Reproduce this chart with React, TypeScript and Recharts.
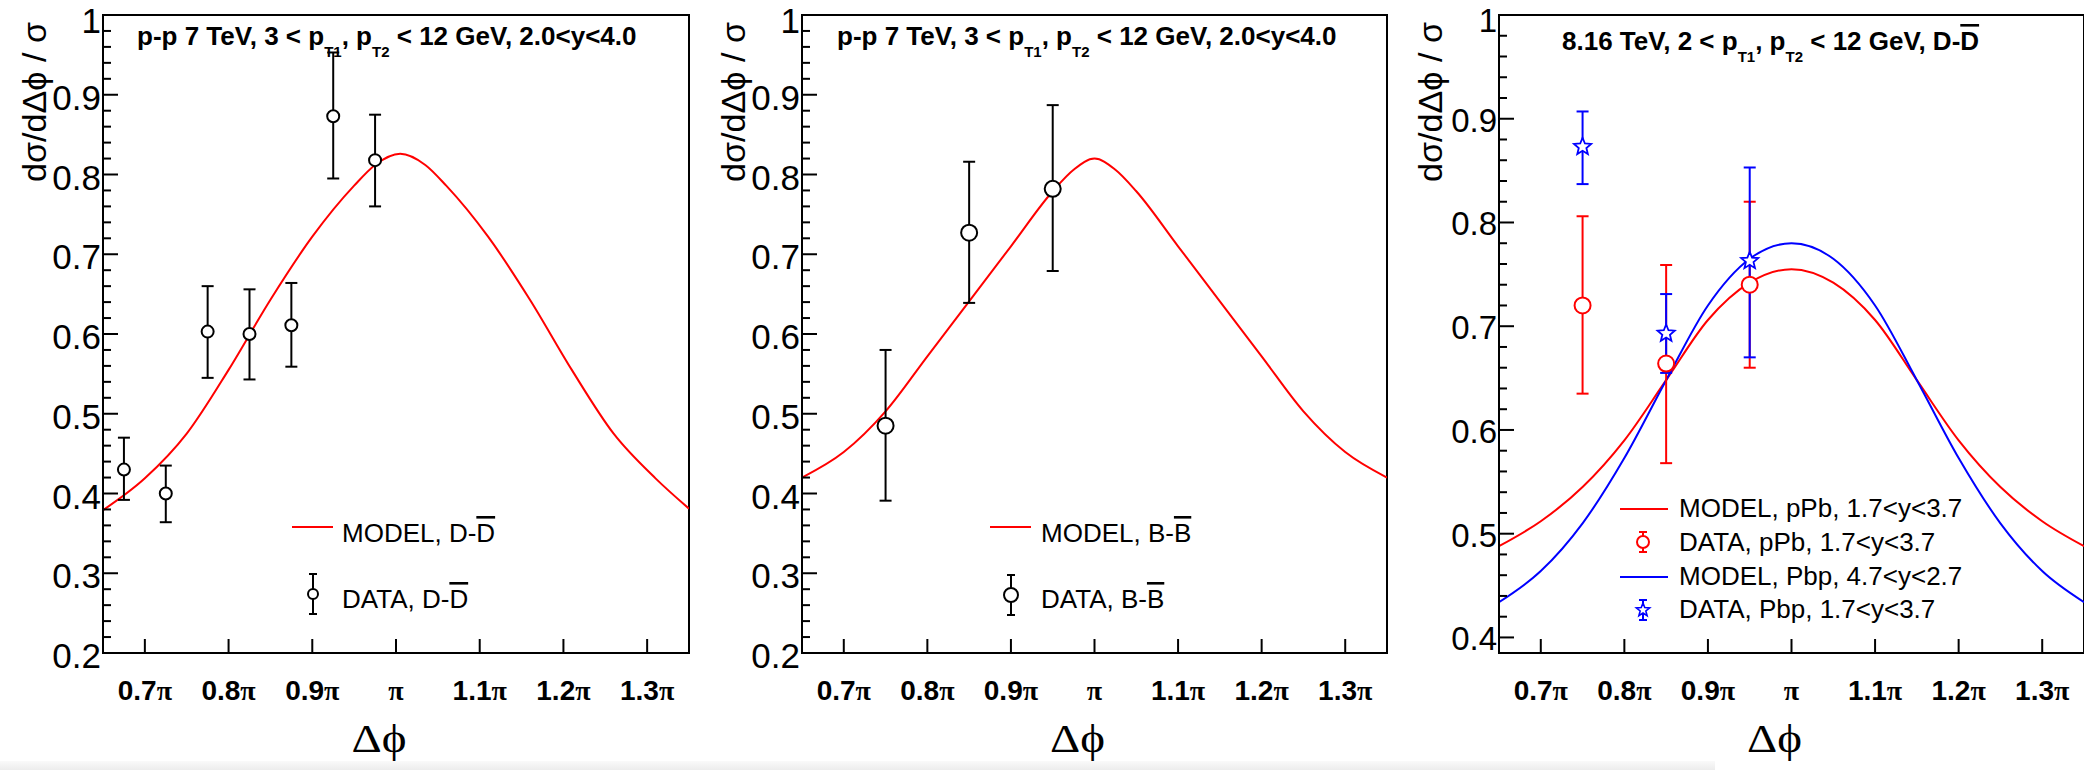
import React from 'react';
import { ComposedChart, Line, Scatter, XAxis, YAxis, ErrorBar, ReferenceArea, Legend, Label } from 'recharts';

const SANS = '"Liberation Sans", Arial, Helvetica, "DejaVu Sans", sans-serif';
const SERIF = '"Liberation Serif", "Times New Roman", "DejaVu Serif", serif';

// ---------- axes (x in units of π) ----------
const X_DOMAIN = [0.65, 1.35];
const X_TICKS = [0.7, 0.8, 0.9, 1.0, 1.1, 1.2, 1.3];
const X_TICK_LABELS = ['0.7π', '0.8π', '0.9π', 'π', '1.1π', '1.2π', '1.3π'];

const Y_DOMAIN_PP = [0.2, 1.0];
const Y_MAJOR_PP = [0.2, 0.3, 0.4, 0.5, 0.6, 0.7, 0.8, 0.9, 1.0];
const Y_LABELS_PP = ['0.2', '0.3', '0.4', '0.5', '0.6', '0.7', '0.8', '0.9', '1'];
const Y_DOMAIN_PPB = [0.385, 1.0];
const Y_MAJOR_PPB = [0.4, 0.5, 0.6, 0.7, 0.8, 0.9, 1.0];
const Y_LABELS_PPB = ['0.4', '0.5', '0.6', '0.7', '0.8', '0.9', '1'];

// ---------- panel 1 : D-Dbar, pp 7 TeV ----------
const DD_DATA_X = [0.675, 0.725, 0.775, 0.825, 0.875, 0.925, 0.975];
const DD_DATA_Y = [0.430, 0.400, 0.603, 0.600, 0.611, 0.873, 0.818];
const DD_DATA_LO = [0.392, 0.364, 0.545, 0.543, 0.559, 0.795, 0.760];
const DD_DATA_HI = [0.470, 0.435, 0.660, 0.656, 0.664, 0.953, 0.875];
const DD_MODEL_X = [0.65, 0.70, 0.75, 0.80, 0.85, 0.90, 0.95, 0.975, 1.005, 1.035, 1.06, 1.11, 1.16, 1.21, 1.26, 1.31, 1.35];
const DD_MODEL_Y = [0.379, 0.419, 0.475, 0.555, 0.643, 0.722, 0.786, 0.812, 0.826, 0.812, 0.786, 0.722, 0.643, 0.555, 0.475, 0.419, 0.381];

// ---------- panel 2 : B-Bbar, pp 7 TeV ----------
const BB_DATA_X = [0.75, 0.85, 0.95];
const BB_DATA_Y = [0.485, 0.727, 0.782];
const BB_DATA_LO = [0.391, 0.639, 0.679];
const BB_DATA_HI = [0.580, 0.816, 0.887];
const BB_MODEL_X = [0.65, 0.70, 0.75, 0.80, 0.85, 0.90, 0.95, 0.975, 1.0, 1.025, 1.05, 1.10, 1.15, 1.20, 1.25, 1.30, 1.35];
const BB_MODEL_Y = [0.420, 0.452, 0.503, 0.572, 0.641, 0.710, 0.779, 0.806, 0.820, 0.806, 0.779, 0.710, 0.641, 0.572, 0.503, 0.452, 0.420];

// ---------- panel 3 : D-Dbar, 8.16 TeV pPb / Pbp ----------
const PA_DATA_X = [0.75, 0.85, 0.95];
const PPB_DATA_Y = [0.720, 0.664, 0.740];
const PPB_DATA_LO = [0.635, 0.568, 0.660];
const PPB_DATA_HI = [0.806, 0.759, 0.820];
const PBP_DATA_Y = [0.873, 0.693, 0.763];
const PBP_DATA_LO = [0.837, 0.655, 0.670];
const PBP_DATA_HI = [0.907, 0.731, 0.853];
const PA_MODEL_X = [0.65, 0.70, 0.75, 0.80, 0.85, 0.90, 0.95, 1.0, 1.05, 1.10, 1.15, 1.20, 1.25, 1.30, 1.35];
const PPB_MODEL_Y = [0.488, 0.512, 0.545, 0.590, 0.648, 0.706, 0.742, 0.755, 0.742, 0.706, 0.648, 0.590, 0.545, 0.512, 0.488];
const PBP_MODEL_Y = [0.434, 0.464, 0.510, 0.573, 0.648, 0.720, 0.765, 0.780, 0.765, 0.720, 0.648, 0.573, 0.510, 0.464, 0.434];

// ---------- helpers ----------
const toPoints = (xs: number[], ys: number[]) => xs.map((x, i) => ({ x, y: ys[i] }));
const toErrPoints = (xs: number[], ys: number[], lo: number[], hi: number[]) =>
  xs.map((x, i) => ({ x, y: ys[i], err: [ys[i] - lo[i], hi[i] - ys[i]] }));

const ddModel = toPoints(DD_MODEL_X, DD_MODEL_Y);
const ddData = toErrPoints(DD_DATA_X, DD_DATA_Y, DD_DATA_LO, DD_DATA_HI);
const bbModel = toPoints(BB_MODEL_X, BB_MODEL_Y);
const bbData = toErrPoints(BB_DATA_X, BB_DATA_Y, BB_DATA_LO, BB_DATA_HI);
const ppbModel = toPoints(PA_MODEL_X, PPB_MODEL_Y);
const pbpModel = toPoints(PA_MODEL_X, PBP_MODEL_Y);
const ppbData = toErrPoints(PA_DATA_X, PPB_DATA_Y, PPB_DATA_LO, PPB_DATA_HI);
const pbpData = toErrPoints(PA_DATA_X, PBP_DATA_Y, PBP_DATA_LO, PBP_DATA_HI);

// minor ticks every 0.02 inside the domain
const withMinors = (domain: number[]) => {
  const out: number[] = [];
  const s = Math.ceil(domain[0] * 50 - 1e-9);
  const e = Math.floor(domain[1] * 50 + 1e-9);
  for (let i = s; i <= e; i++) out.push(+(i / 50).toFixed(2));
  return out;
};

const XTick = (props: any) => {
  const { x, y, payload } = props;
  const i = X_TICKS.findIndex((t) => Math.abs(t - payload.value) < 1e-9);
  const label = i >= 0 ? X_TICK_LABELS[i] : '';
  const num = label.replace('π', '');
  return (
    <g>
      <line x1={x} x2={x} y1={y} y2={y - 14} stroke="#000" strokeWidth={2} />
      <text x={x} y={y + 47} textAnchor="middle" fontSize={28} fontWeight="bold" fontFamily={SANS} fill="#000">
        {num}
        <tspan fontFamily={SERIF}>π</tspan>
      </text>
    </g>
  );
};

const makeYTick = (majors: number[], labels: string[], fontSize: number, dy: number, topDy: number) => (props: any) => {
  const { x, y, payload } = props;
  const v = payload.value;
  const i = majors.findIndex((m) => Math.abs(m - v) < 1e-6);
  const major = i >= 0;
  const isTop = i === majors.length - 1;
  return (
    <g>
      <line x1={x} x2={x + (major ? 15 : 8)} y1={y} y2={y} stroke="#000" strokeWidth={2} />
      {major && (
        <text x={x - 2} y={y + (isTop ? topDy : dy)} textAnchor="end" fontSize={fontSize} fontFamily={SANS} fill="#000">
          {labels[i]}
        </text>
      )}
    </g>
  );
};

const XTitle = (props: any) => {
  const vb = props.viewBox || { x: 0, y: 0, width: 0 };
  const cx = vb.x + vb.width / 2 - 17;
  return (
    <text x={cx} y={vb.y + 99} textAnchor="middle" fontSize={40} fontFamily={SERIF} fill="#000" textLength={55} lengthAdjust="spacingAndGlyphs">
      Δϕ
    </text>
  );
};

const YTitle = (props: any) => {
  const vb = props.viewBox || { x: 0, y: 0, width: 0 };
  const x = vb.x + vb.width - 57;
  const y = vb.y + 7;
  return (
    <text transform={`translate(${x},${y}) rotate(-90)`} textAnchor="end" fontSize={34} fontFamily={SANS} fill="#000" textLength={160} lengthAdjust="spacingAndGlyphs">
      dσ/dΔϕ / σ
    </text>
  );
};

const circleShape = (r: number, color: string) => (props: any) =>
  <circle cx={props.cx} cy={props.cy} r={r} fill="#fff" stroke={color} strokeWidth={2} />;

const starPath = (cx: number, cy: number, R: number, r: number) => {
  let d = '';
  for (let i = 0; i < 10; i++) {
    const a = -Math.PI / 2 + (i * Math.PI) / 5;
    const rad = i % 2 === 0 ? R : r;
    d += (i === 0 ? 'M' : 'L') + (cx + rad * Math.cos(a)).toFixed(2) + ',' + (cy + rad * Math.sin(a)).toFixed(2);
  }
  return d + 'Z';
};
const starShape = (color: string) => (props: any) =>
  <path d={starPath(props.cx, props.cy, 9, 4)} fill="#fff" stroke={color} strokeWidth={1.8} />;

// ---------- title / legend overlays ----------
const Sub = ({ children }: { children: React.ReactNode }) => (
  <tspan fontSize={15} dy={12}>{children}</tspan>
);
const Up = ({ children }: { children: React.ReactNode }) => <tspan dy={-12}>{children}</tspan>;
const OL = ({ children }: { children: React.ReactNode }) => (
  <tspan style={{ textDecoration: 'overline' }}>{children}</tspan>
);

const ppTitle = (x: number, y: number) => (
  <text x={x} y={y} fontSize={26} fontWeight="bold" fontFamily={SANS} fill="#000">
    p-p 7 TeV, 3 &lt; p<Sub>T1</Sub><Up>, p</Up><Sub>T2</Sub><Up> &lt; 12 GeV, 2.0&lt;y&lt;4.0</Up>
  </text>
);

const ErrSample = ({ x, y, h, color, children }: any) => (
  <g>
    <line x1={x} x2={x} y1={y - h} y2={y + h} stroke={color} strokeWidth={2} />
    <line x1={x - 4} x2={x + 4} y1={y - h} y2={y - h} stroke={color} strokeWidth={2} />
    <line x1={x - 4} x2={x + 4} y1={y + h} y2={y + h} stroke={color} strokeWidth={2} />
    {children}
  </g>
);

const legendWrap = (w: number) => ({ left: 0, top: 0, width: w, height: 770, margin: 0, padding: 0, pointerEvents: 'none' as const });

const Legend1 = () => (
  <svg width={700} height={770} style={{ position: 'absolute', left: 0, top: 0, overflow: 'visible' }}>
    {ppTitle(137, 45)}
    <line x1={292} x2={333} y1={527} y2={527} stroke="#ff0000" strokeWidth={2} />
    <text x={342} y={542} fontSize={26} fontFamily={SANS} fill="#000">MODEL, D-<OL>D</OL></text>
    <ErrSample x={313} y={594} h={20} color="#000">
      <circle cx={313} cy={594} r={5} fill="#fff" stroke="#000" strokeWidth={2} />
    </ErrSample>
    <text x={342} y={608} fontSize={26} fontFamily={SANS} fill="#000">DATA, D-<OL>D</OL></text>
  </svg>
);

const Legend2 = () => (
  <svg width={700} height={770} style={{ position: 'absolute', left: 0, top: 0, overflow: 'visible' }}>
    {ppTitle(137, 45)}
    <line x1={290} x2={331} y1={527} y2={527} stroke="#ff0000" strokeWidth={2} />
    <text x={341} y={542} fontSize={26} fontFamily={SANS} fill="#000">MODEL, B-<OL>B</OL></text>
    <ErrSample x={311} y={595} h={20} color="#000">
      <circle cx={311} cy={595} r={7} fill="#fff" stroke="#000" strokeWidth={2} />
    </ErrSample>
    <text x={341} y={608} fontSize={26} fontFamily={SANS} fill="#000">DATA, B-<OL>B</OL></text>
  </svg>
);

const Legend3 = () => (
  <svg width={684} height={770} style={{ position: 'absolute', left: 0, top: 0, overflow: 'visible' }}>
    <text x={162} y={50} fontSize={26} fontWeight="bold" fontFamily={SANS} fill="#000">
      8.16 TeV, 2 &lt; p<Sub>T1</Sub><Up>, p</Up><Sub>T2</Sub><Up> &lt; 12 GeV, D-</Up><OL>D</OL>
    </text>
    <line x1={220} x2={268} y1={509} y2={509} stroke="#ff0000" strokeWidth={2} />
    <text x={279} y={517} fontSize={26} fontFamily={SANS} fill="#000">MODEL, pPb, 1.7&lt;y&lt;3.7</text>
    <ErrSample x={243} y={542} h={10} color="#ff0000">
      <circle cx={243} cy={542} r={6} fill="#fff" stroke="#ff0000" strokeWidth={2} />
    </ErrSample>
    <text x={279} y={551} fontSize={26} fontFamily={SANS} fill="#000">DATA, pPb, 1.7&lt;y&lt;3.7</text>
    <line x1={220} x2={268} y1={577} y2={577} stroke="#0000ff" strokeWidth={2} />
    <text x={279} y={585} fontSize={26} fontFamily={SANS} fill="#000">MODEL, Pbp, 4.7&lt;y&lt;2.7</text>
    <ErrSample x={243} y={610} h={10} color="#0000ff">
      <path d={starPath(243, 610, 7, 3)} fill="#fff" stroke="#0000ff" strokeWidth={1.6} />
    </ErrSample>
    <text x={279} y={618} fontSize={26} fontFamily={SANS} fill="#000">DATA, Pbp, 1.7&lt;y&lt;3.7</text>
  </svg>
);

type PanelProps = {
  left: number;
  width: number;
  plotLeft: number;
  plotRight: number;
  yDomain: number[];
  yMajor: number[];
  yLabels: string[];
  yFont: number;
  yDy: number;
  yTopDy: number;
  legend: () => React.ReactElement;
  children: React.ReactNode;
};

function Panel({ left, width, plotLeft, plotRight, yDomain, yMajor, yLabels, yFont, yDy, yTopDy, legend, children }: PanelProps) {
  const yTicks = withMinors(yDomain);
  return (
    <div style={{ position: 'absolute', left, top: 0, width, height: 770 }}>
      <ComposedChart
        width={width}
        height={770}
        margin={{ top: 15, right: Math.max(0, width - plotRight), bottom: 116, left: plotLeft - 1 }}
        style={{ overflow: 'visible' }}
      >
        <XAxis
          type="number"
          dataKey="x"
          domain={X_DOMAIN}
          ticks={X_TICKS}
          interval={0}
          tick={XTick}
          tickLine={false}
          tickSize={0}
          tickMargin={0}
          height={1}
          allowDataOverflow
          axisLine={{ stroke: '#000', strokeWidth: 2 }}
        >
          <Label content={XTitle} />
        </XAxis>
        <YAxis
          type="number"
          dataKey="y"
          domain={yDomain}
          ticks={yTicks}
          interval={0}
          tick={makeYTick(yMajor, yLabels, yFont, yDy, yTopDy)}
          tickLine={false}
          tickSize={0}
          tickMargin={0}
          width={1}
          allowDataOverflow
          axisLine={{ stroke: '#000', strokeWidth: 2 }}
        >
          <Label content={YTitle} />
        </YAxis>
        <ReferenceArea
          x1={X_DOMAIN[0]}
          x2={X_DOMAIN[1]}
          y1={yDomain[0]}
          y2={yDomain[1]}
          fill="none"
          stroke="#000"
          strokeWidth={2}
          ifOverflow="visible"
        />
        {children}
        <Legend
          layout="horizontal"
          verticalAlign="middle"
          align="center"
          wrapperStyle={legendWrap(width)}
          content={legend}
        />
      </ComposedChart>
    </div>
  );
}

export default function App() {
  return (
    <div style={{ position: 'absolute', left: 0, top: 0, width: 2084, height: 770, background: '#fff', overflow: 'hidden' }}>
      <Panel left={0} width={700} plotLeft={103} plotRight={689} yDomain={Y_DOMAIN_PP} yMajor={Y_MAJOR_PP} yLabels={Y_LABELS_PP} yFont={35} yDy={15} yTopDy={18} legend={Legend1}>
        <Line data={ddModel} dataKey="y" type="monotone" stroke="#ff0000" strokeWidth={2} dot={false} isAnimationActive={false} />
        <Scatter data={ddData} dataKey="y" shape={circleShape(6, '#000')} isAnimationActive={false}>
          <ErrorBar dataKey="err" direction="y" width={6} stroke="#000" strokeWidth={2} />
        </Scatter>
      </Panel>
      <Panel left={700} width={700} plotLeft={102} plotRight={687} yDomain={Y_DOMAIN_PP} yMajor={Y_MAJOR_PP} yLabels={Y_LABELS_PP} yFont={35} yDy={15} yTopDy={18} legend={Legend2}>
        <Line data={bbModel} dataKey="y" type="monotone" stroke="#ff0000" strokeWidth={2} dot={false} isAnimationActive={false} />
        <Scatter data={bbData} dataKey="y" shape={circleShape(8, '#000')} isAnimationActive={false}>
          <ErrorBar dataKey="err" direction="y" width={6} stroke="#000" strokeWidth={2} />
        </Scatter>
      </Panel>
      <Panel left={1400} width={684} plotLeft={99} plotRight={684} yDomain={Y_DOMAIN_PPB} yMajor={Y_MAJOR_PPB} yLabels={Y_LABELS_PPB} yFont={33} yDy={13} yTopDy={17} legend={Legend3}>
        <Line data={ppbModel} dataKey="y" type="monotone" stroke="#ff0000" strokeWidth={2} dot={false} isAnimationActive={false} />
        <Line data={pbpModel} dataKey="y" type="monotone" stroke="#0000ff" strokeWidth={2} dot={false} isAnimationActive={false} />
        <Scatter data={ppbData} dataKey="y" shape={circleShape(8, '#ff0000')} isAnimationActive={false}>
          <ErrorBar dataKey="err" direction="y" width={6} stroke="#ff0000" strokeWidth={2} />
        </Scatter>
        <Scatter data={pbpData} dataKey="y" shape={starShape('#0000ff')} isAnimationActive={false}>
          <ErrorBar dataKey="err" direction="y" width={6} stroke="#0000ff" strokeWidth={2} />
        </Scatter>
      </Panel>
      <div style={{ position: 'absolute', left: 0, top: 761, width: 1715, height: 9, background: 'linear-gradient(#fafafa, #ececec)' }} />
    </div>
  );
}
